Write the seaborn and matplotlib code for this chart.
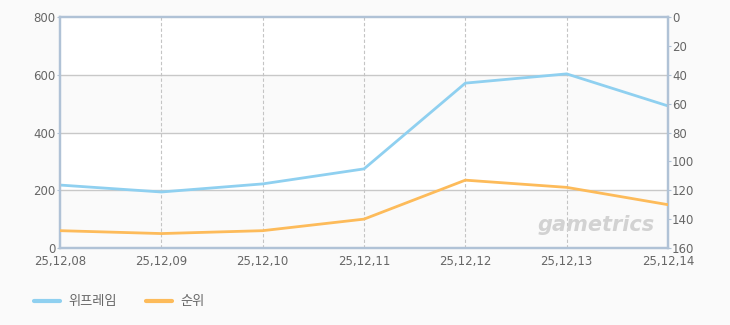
import matplotlib
matplotlib.use("Agg")
import matplotlib.pyplot as plt
import seaborn as sns
import pandas as pd
from matplotlib.lines import Line2D

dates = ["25,12,08", "25,12,09", "25,12,10", "25,12,11", "25,12,12", "25,12,13", "25,12,14"]
wiframe = [218, 194, 222, 274, 571, 603, 492]
rank = [148, 150, 148, 140, 113, 118, 130]
left_ticks = [0, 200, 400, 600, 800]
right_ticks = [0, 20, 40, 60, 80, 100, 120, 140, 160]
names = ["위프레임", "순위"]

sns.set_style("white")
plt.rcParams['font.family'] = ['Noto Sans CJK KR', 'DejaVu Sans']

W, H = 730, 325
fig = plt.figure(figsize=(W/100, H/100), dpi=100, facecolor="#fafafa")
L, R, T, B = 60, 668, 17, 248
ax = fig.add_axes([L/W, 1 - B/H, (R-L)/W, (B-T)/H])
ax.set_facecolor("white")

df = pd.DataFrame({"x": range(len(dates)), "v": wiframe, "r": rank})

# alternating bands
for i in range(len(left_ticks) - 1):
    if i % 2 == 0:
        ax.axhspan(left_ticks[i], left_ticks[i+1], color="#fafafa", zorder=0, lw=0)
for t in left_ticks[1:-1]:
    ax.axhline(t, color="#c8c8c8", lw=1, zorder=1)
for i in range(1, len(dates) - 1):
    ax.axvline(i, color="#c4c4c4", lw=0.8, ls=(0, (3, 2)), zorder=1)

blue = "#8fd0f0"
orange = "#fdbb5a"
sns.lineplot(data=df, x="x", y="v", ax=ax, color=blue, lw=2, zorder=3)
ax.set_xlim(0, len(dates) - 1)
ax.set_ylim(0, 800)
ax.set_yticks(left_ticks)
ax.set_xticks(range(len(dates)))
ax.set_xticklabels(dates)
ax.set_xlabel("")
ax.set_ylabel("")

ax2 = ax.twinx()
sns.lineplot(data=df, x="x", y="r", ax=ax2, color=orange, lw=2, zorder=3)
ax2.set_ylim(160, 0)
ax2.set_yticks(right_ticks)
ax2.set_ylabel("")
ax2.set_xlim(0, len(dates) - 1)

frame_c = "#b0c2d6"
for a in (ax, ax2):
    for s in a.spines.values():
        s.set_color(frame_c)
        s.set_linewidth(1.6)
    a.tick_params(colors="#666666", labelsize=8.5, length=2, width=0.8)
    a.tick_params(axis="y", color=frame_c, pad=1)
    a.tick_params(axis="x", color=frame_c, pad=3)
    for lab in a.get_xticklabels() + a.get_yticklabels():
        lab.set_fontfamily(['DejaVu Sans'])
        lab.set_color("#666666")

ax.text(0.978, 0.055, "gametrics", transform=ax.transAxes, ha="right", va="bottom",
        fontsize=15, fontweight="bold", style="italic", color="#d2d2d2",
        family="DejaVu Sans", zorder=2)

handles = [Line2D([], [], color=blue, lw=3), Line2D([], [], color=orange, lw=3)]
fig.legend(handles, names, loc="lower left", bbox_to_anchor=(22/W, 5/H), ncol=2,
           frameon=False, fontsize=9.5, handlelength=2, columnspacing=2.2,
           handletextpad=0.6, labelcolor="#666666")

fig.savefig("out.png", dpi=100, facecolor=fig.get_facecolor())
